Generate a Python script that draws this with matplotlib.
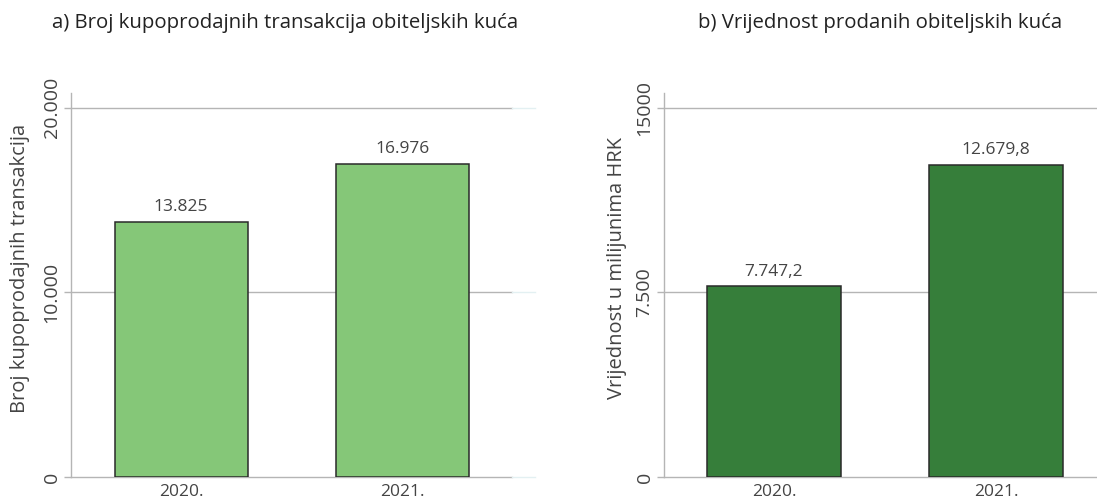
import matplotlib
matplotlib.use("Agg")
import matplotlib.pyplot as plt
from matplotlib.ticker import FixedLocator, FixedFormatter

plt.rcParams['font.family'] = ['Open Sans', 'DejaVu Sans']

years = ["2020.", "2021."]
transactions = [13825, 16976]
trans_labels = ["13.825", "16.976"]
values = [7747.2, 12679.8]
value_labels = ["7.747,2", "12.679,8"]
ticks_a = [0, 10000, 20000]
ticklabels_a = ["0", "10.000", "20.000"]
ticks_b = [0, 7500, 15000]
ticklabels_b = ["0", "7.500", "15000"]

W, H = 1097, 499
fig = plt.figure(figsize=(W / 100, H / 100), dpi=100)

def px_axes(x0, x1, y_top, y_bot):
    return fig.add_axes([x0 / W, (H - y_bot) / H, (x1 - x0) / W, (y_bot - y_top) / H])

grid_c = "#b5b5b5"
txt_c = "#444444"

def style(ax, ticks, labels, ymax, xlim, ylabel, fade=False):
    ax.set_ylim(0, ymax)
    ax.set_xlim(*xlim)
    ax.yaxis.set_major_locator(FixedLocator(ticks))
    ax.yaxis.set_major_formatter(FixedFormatter(labels))
    for t in ax.get_yticklabels():
        t.set_rotation(90)
        t.set_va("center")
        t.set_ha("center")
    ax.tick_params(axis="y", length=5, color=grid_c, width=1, labelsize=14,
                   labelcolor=txt_c, pad=9)
    ax.tick_params(axis="x", length=0, labelsize=12.5, labelcolor=txt_c, pad=5)
    for s in ["top", "right", "bottom"]:
        ax.spines[s].set_visible(False)
    ax.spines["left"].set_color(grid_c)
    ax.spines["left"].set_linewidth(1)
    for t in ticks:
        if fade:
            ax.axhline(t, xmin=0, xmax=0.95, color=grid_c, lw=1, zorder=0, clip_on=False)
            ax.axhline(t, xmin=0.95, xmax=1.0, color="#e3f0f2", lw=1, zorder=0, clip_on=False)
        else:
            ax.axhline(t, color=grid_c, lw=1, zorder=0, clip_on=False)
    ax.set_ylabel(ylabel, fontsize=14.5, color=txt_c)

# Panel a
axa = px_axes(71, 535, 93, 477)
axa.bar([0, 1], transactions, width=0.6, color="#85c778", edgecolor="#2a2a2a",
        linewidth=1.1, zorder=2)
for i, (v, lab) in enumerate(zip(transactions, trans_labels)):
    axa.text(i, v + 350, lab, ha="center", va="bottom", fontsize=12.5, color=txt_c)
axa.set_xticks([0, 1])
axa.set_xticklabels(years)
style(axa, ticks_a, ticklabels_a, 20800, (-0.497, 1.598),
      "Broj kupoprodajnih transakcija", fade=True)
axa.yaxis.set_label_coords(-0.088, 0.544)

# Panel b
axb = px_axes(664, 1097, 93, 477)
axb.bar([0, 1], values, width=0.6, color="#367e3a", edgecolor="#2a2a2a",
        linewidth=1.1, zorder=2)
for i, (v, lab) in enumerate(zip(values, value_labels)):
    axb.text(i, v + 260, lab, ha="center", va="bottom", fontsize=12.5, color=txt_c)
axb.set_xticks([0, 1])
axb.set_xticklabels(years)
style(axb, ticks_b, ticklabels_b, 15600, (-0.495, 1.455),
      "Vrijednost u milijunima HRK")
axb.yaxis.set_label_coords(-0.085, 0.544)

fig.text(285 / W, 1 - 23 / H, "a) Broj kupoprodajnih transakcija obiteljskih kuća",
         ha="center", va="center", fontsize=14.7, color="#222222")
fig.text(880 / W, 1 - 23 / H, "b) Vrijednost prodanih obiteljskih kuća",
         ha="center", va="center", fontsize=14.7, color="#222222")

fig.savefig("out.png", dpi=100)
